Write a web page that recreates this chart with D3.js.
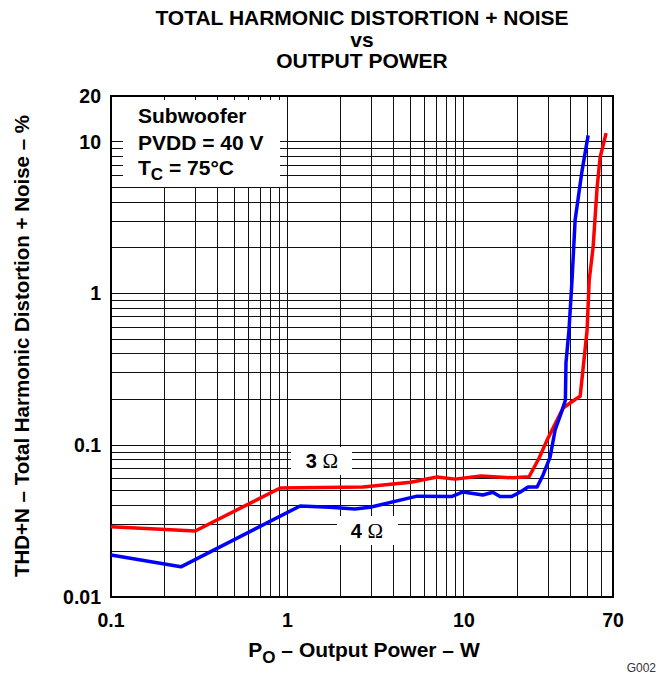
<!DOCTYPE html>
<html><head><meta charset="utf-8">
<script src="https://cdn.jsdelivr.net/npm/d3@7"></script>
<style>body{margin:0;background:#fff}svg{display:block;font-family:"Liberation Sans",Arial,sans-serif}</style>
</head><body><svg id="c" width="668" height="675"></svg>
<script>
const xTickLabels = [0.1, 1, 10, 70];
const yTickLabels = [0.01, 0.1, 1, 10, 20];
const xGrid = [0.2,0.3,0.4,0.5,0.6,0.7,0.8,0.9,1,2,3,4,5,6,7,8,9,10,20,30,40,50,60];
const yGrid = [0.02,0.03,0.04,0.05,0.06,0.07,0.08,0.09,0.1,0.2,0.3,0.4,0.5,0.6,0.7,0.8,0.9,1,2,3,4,5,6,7,8,9,10];
const red3P = [0.1,0.3,0.91,2.68,5.0,7.05,8.9,12.5,19,23.4,26.7,29.6,36.5,42.7,45.6,49.9,51.3,54,56.9,59.2,64];
const red3Y = [0.029,0.0272,0.0523,0.053,0.057,0.0617,0.0598,0.0627,0.061,0.062,0.0824,0.108,0.176,0.2,0.21,0.57,1.22,2.02,5.0,7.9,11.4];
const blue4P = [0.1,0.249,1.18,1.74,2.41,2.94,5.43,8.57,9.9,12.8,14.6,16,18.7,20.8,23.1,26,28.1,30.8,32.9,36.1,37.6,37.9,39.4,41,42.7,46.8,50.6];
const blue4Y = [0.0189,0.0158,0.0398,0.039,0.038,0.039,0.0462,0.046,0.0492,0.047,0.049,0.046,0.046,0.049,0.053,0.053,0.0637,0.0835,0.126,0.171,0.198,0.35,0.57,1.22,3.05,6.5,11];

const svg = d3.select('#c');
const L=111,R=613,T=96,B=597;
const x = d3.scaleLog().domain([0.1,70]).range([L,R]);
const y = d3.scaleLog().domain([0.01,20]).range([B,T]);

// grid
const g = svg.append('g').attr('stroke','#111').attr('stroke-width',1).attr('shape-rendering','crispEdges');
g.selectAll('.vx').data(xGrid).join('line').attr('x1',d=>x(d)).attr('x2',d=>x(d)).attr('y1',T).attr('y2',B);
g.selectAll('.hy').data(yGrid).join('line').attr('y1',d=>y(d)).attr('y2',d=>y(d)).attr('x1',L).attr('x2',R);

// white label boxes
svg.append('rect').attr('x',L).attr('y',T).attr('width',169).attr('height',91).attr('fill','#fff');
svg.append('rect').attr('x',291).attr('y',447).attr('width',61).attr('height',28).attr('fill','#fff');
svg.append('rect').attr('x',337).attr('y',516).attr('width',61).attr('height',29).attr('fill','#fff');

// inner ticks on border
const tk = svg.append('g').attr('stroke','#111').attr('stroke-width',1).attr('shape-rendering','crispEdges');
tk.selectAll('.tt').data(xGrid).join('line').attr('x1',d=>x(d)).attr('x2',d=>x(d)).attr('y1',T).attr('y2',T+4);
tk.selectAll('.tl').data(yGrid).join('line').attr('y1',d=>y(d)).attr('y2',d=>y(d)).attr('x1',L).attr('x2',L+12);

// border
svg.append('rect').attr('x',L).attr('y',T).attr('width',R-L).attr('height',B-T).attr('fill','none').attr('stroke','#000').attr('stroke-width',2);

// curves
const line = d3.line().x(d=>x(d[0])).y(d=>y(d[1]));
svg.append('path').datum(red3P.map((p,i)=>[p,red3Y[i]])).attr('d',line).attr('fill','none').attr('stroke','#ff0000').attr('stroke-width',3.5).attr('stroke-linejoin','round');
svg.append('path').datum(blue4P.map((p,i)=>[p,blue4Y[i]])).attr('d',line).attr('fill','none').attr('stroke','#0000ff').attr('stroke-width',3.5).attr('stroke-linejoin','round');

// tick labels
const fmt = d=>String(d);
svg.selectAll('.xl').data(xTickLabels).join('text').attr('x',d=>x(d)).attr('y',B+30).attr('text-anchor','middle')
  .attr('font-size',19.5).attr('font-weight','bold').text(fmt);
svg.selectAll('.yl').data(yTickLabels).join('text').attr('x',L-10).attr('y',d=>y(d)+7).attr('text-anchor','end')
  .attr('font-size',19.5).attr('font-weight','bold').text(fmt);

// titles
const title = ['TOTAL HARMONIC DISTORTION + NOISE','vs','OUTPUT POWER'];
svg.selectAll('.ti').data(title).join('text').attr('x',362).attr('y',(d,i)=>25+i*21.5).attr('text-anchor','middle')
  .attr('font-size',21).attr('font-weight','bold').text(d=>d);

// x axis label
const xl = svg.append('text').attr('x',364).attr('y',657).attr('text-anchor','middle').attr('font-size',21).attr('font-weight','bold');
xl.append('tspan').text('P');
xl.append('tspan').attr('dy',6).attr('font-size',17).text('O');
xl.append('tspan').attr('dy',-6).text(' – Output Power – W');

// y axis label
svg.append('text').attr('transform','translate(29,346) rotate(-90)').attr('text-anchor','middle').attr('font-size',20.5).attr('font-weight','bold')
  .text('THD+N – Total Harmonic Distortion + Noise – %');

svg.append('text').attr('x',656).attr('y',672).attr('text-anchor','end').attr('font-size',12).attr('fill','#333').text('G002');

// box text
const bt = svg.append('g').attr('font-size',21).attr('font-weight','bold');
bt.append('text').attr('x',138).attr('y',123).text('Subwoofer');
bt.append('text').attr('x',138).attr('y',150).text('PVDD = 40 V');
const tc = bt.append('text').attr('x',138).attr('y',175);
tc.append('tspan').text('T');
tc.append('tspan').attr('dy',5).attr('font-size',17).text('C');
tc.append('tspan').attr('dy',-5).text(' = 75°C');

// curve labels
function ohm(cx, by, num){
  const t = svg.append('text').attr('x',cx).attr('y',by).attr('text-anchor','middle').attr('font-size',20);
  t.append('tspan').attr('font-weight','bold').text(num+' ');
  t.append('tspan').attr('font-family','"Liberation Serif",serif').attr('font-size',21).text('Ω');
}
ohm(322,468,'3');
ohm(367,538,'4');
</script></body></html>
